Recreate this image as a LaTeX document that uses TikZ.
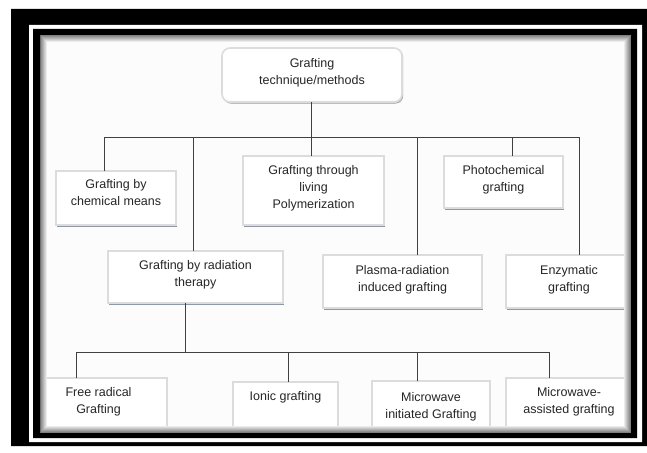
\documentclass[tikz,border=0pt]{standalone}
\usepackage{fontspec}
\setmainfont{Liberation Sans}
\usetikzlibrary{shadows}
\definecolor{ln}{HTML}{404040}
\definecolor{bd}{HTML}{DCDCDC}
\definecolor{sh}{HTML}{8E98A6}
\newcommand{\mybx}[4]{\parbox[c][#2pt][t]{#1pt}{\centering\baselineskip=17pt\rule{0pt}{#3pt}#4\par}}
\tikzset{
  box/.style={draw=bd, line width=1.6pt, fill=white, inner sep=0pt, outer sep=0pt,
    anchor=north west, font=\fontsize{12.5}{17}\selectfont, text=black!85,
    drop shadow={shadow xshift=1.2pt, shadow yshift=-1.6pt, fill=sh, opacity=1}},
  topbox/.style={box, rounded corners=8pt,
    drop shadow={shadow xshift=0.8pt, shadow yshift=-1pt, fill=black!18, opacity=1}},
  conn/.style={draw=ln, line width=1pt}
}
\begin{document}
\begin{tikzpicture}[x=1pt,y=-1pt]
\useasboundingbox (0,0) rectangle (647,452);
\fill[white] (0,0) rectangle (647,452);
\fill[black!1] (40,35) rectangle (631,433);

% nodes
\node[topbox] (top) at (222,48) {\mybx{180}{54}{19.5}{Grafting\\technique/methods}};
\node[box] (chem) at (56,171) {\mybx{120}{54}{17.5}{Grafting by\\chemical means}};
\node[box] (living) at (243,156) {\mybx{141}{69}{18.5}{Grafting through\\living\\Polymerization}};
\node[box] (photo) at (444,156) {\mybx{119}{52}{18.5}{Photochemical\\grafting}};
\node[box] (rad) at (108,251) {\mybx{175}{52}{18.5}{Grafting by radiation\\therapy}};
\node[box] (plasma) at (323,255) {\mybx{159}{53}{19.5}{Plasma-radiation\\induced grafting}};
\node[box] (enz) at (506,255) {\mybx{126}{53}{19.5}{Enzymatic\\grafting}};
\node[box] (free) at (30,378) {\mybx{137}{49}{18.5}{Free radical\\Grafting}};
\node[box] (ionic) at (233,382) {\mybx{105}{60}{18.5}{Ionic grafting}};
\node[box] (mwi) at (372,381) {\mybx{118}{60}{20.5}{Microwave\\initiated Grafting}};
\node[box] (mwa) at (506,378) {\mybx{126}{49}{18.5}{Microwave-\\assisted grafting}};

% bus coordinates
\coordinate (b1L) at (104,137);
\coordinate (b1R) at (579,137);
\coordinate (b1r) at (193,137);
\coordinate (b1c) at (311,137);
\coordinate (b1p) at (417,137);
\coordinate (b1h) at (512,137);
\coordinate (b2L) at (76,352);
\coordinate (b2R) at (549,352);
\coordinate (b2t) at (185,352);
\coordinate (b2i) at (288,352);
\coordinate (b2m) at (417,352);

% connectors
\draw[conn] (b1c |- top.south) -- (b1c);
\draw[conn] (b1L) -- (b1R);
\draw[conn] (b1L) -- (b1L |- chem.north);
\draw[conn] (b1r) -- (b1r |- rad.north);
\draw[conn] (b1c) -- (b1c |- living.north);
\draw[conn] (b1p) -- (b1p |- plasma.north);
\draw[conn] (b1h) -- (b1h |- photo.north);
\draw[conn] (b1R) -- (b1R |- enz.north);
\draw[conn] (b2t |- rad.south) -- (b2t);
\draw[conn] (b2L) -- (b2R);
\draw[conn] (b2L) -- (b2L |- free.north);
\draw[conn] (b2i) -- (b2i |- ionic.north);
\draw[conn] (b2m) -- (b2m |- mwi.north);
\draw[conn] (b2R) -- (b2R |- mwa.north);

% inner shadow
\foreach \i in {0,...,6}{
  \pgfmathsetmacro\g{50-7*\i}
  \draw[black!\g, line width=1pt] (40.5+\i,35.5+\i) rectangle (630.5-\i,432.5-\i);
}
% frame
\fill[black, even odd rule] (11,9) rectangle (647,446) (29,25) rectangle (642,442);
\fill[white, even odd rule] (29,25) rectangle (642,442) (33,29) rectangle (637,438);
\fill[black, even odd rule] (33,29) rectangle (637,438) (40,35) rectangle (631,433);
\end{tikzpicture}
\end{document}
